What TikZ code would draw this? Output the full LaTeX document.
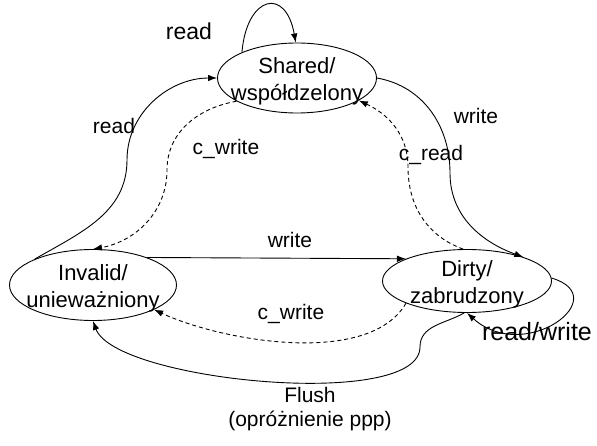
\documentclass[tikz,border=0pt]{standalone}
\usepackage{fontspec}
\setmainfont{Liberation Sans}
\usetikzlibrary{shapes.geometric,arrows.meta,positioning}

\begin{document}
\begin{tikzpicture}[x=1pt,y=1pt,node distance=207pt,line width=0.9pt,
                >={Latex[length=9pt,width=6.5pt]},
                state/.style={ellipse,draw,inner sep=0pt},
                state text/.style={align=center,yshift=-3pt,font=\fontsize{22}{27}\selectfont},
                lbl/.style={inner sep=0pt,font=\fontsize{21}{24}\selectfont},
                snoop/.style={dash pattern=on 4pt off 3pt}]
	\useasboundingbox (0,0) rectangle (597,445);

	\node[state,minimum width=159pt,minimum height=70pt,
	      label={[state text]center:Shared/\\współdzelony}] (sh) at (297,367) {};
	\node[state,minimum width=167pt,minimum height=71pt,
	      label={[state text]center:Invalid/\\unieważniony}] (inv) [below of = sh, xshift=-204pt] {};
	\node[state,minimum width=169pt,minimum height=63pt,
	      label={[state text]center:Dirty/\\zabrudzony}] (dir) [right of = inv, xshift=167pt, yshift=4pt] {};

	% own processor
	\draw[->] (sh.155) .. controls +(5,57) and +(-10,56) .. (sh.92);
	\draw[->] (inv.156) to[out=30,in=-90] (127,285) to[out=90,in=180] (sh.west);
	\draw[->] (sh.east) to[out=-10,in=90] (450,272) to[out=-90,in=160] (dir.23);
	\draw[->] (inv.27) -- (dir.160);
	\draw[->] (dir.2) .. controls +(64,-19) and +(58,-52) .. (dir.-90);
	\draw[->] (dir.-95) to[out=210,in=90] (420,98) to[out=-90,in=-70,looseness=0.5] (inv.south);

	% other processors
	\draw[->,snoop] (sh.201) to[out=190,in=90] (167,275) to[out=-90,in=10] (inv.north);
	\draw[->,snoop] (dir.97) to[out=160,in=-90] (408,278) to[out=90,in=-25] (sh.-20);
	\draw[->,snoop] (dir.200) to[out=-120,in=-25,looseness=0.75] (inv.-22);

	\node[lbl,font=\fontsize{23}{27}\selectfont] (rdsh) at (189,414) {read};
	\node[lbl] (rdinv) at (114,319) {read};
	\node[lbl] (cwsh) at (226,296) {c\_write};
	\node[lbl] (crd) at (431,290) {c\_read};
	\node[lbl] (wrsh) at (476,329) {write};
	\node[lbl] (wrinv) at (290,205) {write};
	\node[lbl] (cwdir) at (291,131) {c\_write};
	\node[lbl,align=center] (fl) at (310,36) {Flush\\(opróżnienie ppp)};
	\node[lbl,font=\fontsize{25}{30}\selectfont] (rw) at (537,113) {read/write};

\end{tikzpicture}
\end{document}
